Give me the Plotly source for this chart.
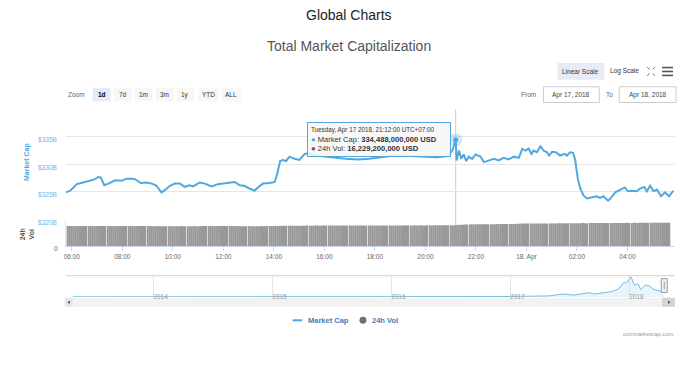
import pandas as pd
import plotly.graph_objects as go

# The page body adds an 8px margin, so the figure is drawn 8px in and sized to fit.
PAGE_W, PAGE_H, OFF = 696, 389, 8
W, H = PAGE_W - OFF, PAGE_H - OFF


def fx(px):
    return (px - OFF) / W


def fy(py):
    return 1 - (py - OFF) / H


# ---------------- data ----------------
# Total market capitalization, 17-18 Apr 2018 (UTC+07:00), billions USD
cap_time = [
    "2018-04-17 05:46", "2018-04-17 05:56", "2018-04-17 06:12", "2018-04-17 06:24", "2018-04-17 06:36",
    "2018-04-17 06:47", "2018-04-17 06:55", "2018-04-17 07:03", "2018-04-17 07:09", "2018-04-17 07:17",
    "2018-04-17 07:27", "2018-04-17 07:43", "2018-04-17 07:58", "2018-04-17 08:10", "2018-04-17 08:22",
    "2018-04-17 08:30", "2018-04-17 08:44", "2018-04-17 08:58", "2018-04-17 09:10", "2018-04-17 09:20",
    "2018-04-17 09:33", "2018-04-17 09:41", "2018-04-17 09:53", "2018-04-17 10:05", "2018-04-17 10:17",
    "2018-04-17 10:28", "2018-04-17 10:40", "2018-04-17 10:48", "2018-04-17 11:04", "2018-04-17 11:16",
    "2018-04-17 11:32", "2018-04-17 11:47", "2018-04-17 11:59", "2018-04-17 12:15", "2018-04-17 12:27",
    "2018-04-17 12:39", "2018-04-17 12:50", "2018-04-17 13:02", "2018-04-17 13:14", "2018-04-17 13:22",
    "2018-04-17 13:34", "2018-04-17 13:50", "2018-04-17 14:02", "2018-04-17 14:07", "2018-04-17 14:15",
    "2018-04-17 14:21", "2018-04-17 14:29", "2018-04-17 14:37", "2018-04-17 14:49", "2018-04-17 15:01",
    "2018-04-17 15:13", "2018-04-17 15:21", "2018-04-17 15:40", "2018-04-17 16:16", "2018-04-17 16:51",
    "2018-04-17 17:20", "2018-04-17 17:46", "2018-04-17 18:14", "2018-04-17 18:50", "2018-04-17 19:25",
    "2018-04-17 20:01", "2018-04-17 20:29", "2018-04-17 20:53", "2018-04-17 21:04", "2018-04-17 21:12",
    "2018-04-17 21:14", "2018-04-17 21:20", "2018-04-17 21:25", "2018-04-17 21:31", "2018-04-17 21:37",
    "2018-04-17 21:43", "2018-04-17 21:51", "2018-04-17 21:59", "2018-04-17 22:11", "2018-04-17 22:19",
    "2018-04-17 22:31", "2018-04-17 22:43", "2018-04-17 22:54", "2018-04-17 23:06", "2018-04-17 23:18",
    "2018-04-17 23:30", "2018-04-17 23:42", "2018-04-17 23:50", "2018-04-17 23:58", "2018-04-18 00:05",
    "2018-04-18 00:12", "2018-04-18 00:17", "2018-04-18 00:25", "2018-04-18 00:33", "2018-04-18 00:41",
    "2018-04-18 00:49", "2018-04-18 00:54", "2018-04-18 01:01", "2018-04-18 01:10", "2018-04-18 01:20",
    "2018-04-18 01:31", "2018-04-18 01:36", "2018-04-18 01:44", "2018-04-18 01:51", "2018-04-18 01:56",
    "2018-04-18 02:02", "2018-04-18 02:08", "2018-04-18 02:16", "2018-04-18 02:24", "2018-04-18 02:36",
    "2018-04-18 02:47", "2018-04-18 02:55", "2018-04-18 03:03", "2018-04-18 03:14", "2018-04-18 03:21",
    "2018-04-18 03:31", "2018-04-18 03:43", "2018-04-18 03:54", "2018-04-18 04:01", "2018-04-18 04:10",
    "2018-04-18 04:22", "2018-04-18 04:30", "2018-04-18 04:40", "2018-04-18 04:46", "2018-04-18 04:54",
    "2018-04-18 05:02", "2018-04-18 05:10", "2018-04-18 05:20", "2018-04-18 05:29", "2018-04-18 05:39",
    "2018-04-18 05:49",
]
cap_value = [
    324.9, 325.2, 326.4, 326.6, 326.8,
    327.1, 327.3, 327.7, 327.6, 326.2,
    326.5, 327.1, 327.0, 327.4, 327.4,
    327.3, 326.6, 326.7, 326.5, 326.2,
    324.9, 325.3, 326.1, 326.5, 326.5,
    325.9, 326.2, 326.0, 326.7, 326.5,
    326.0, 326.4, 326.5, 326.7, 326.8,
    326.2, 326.1, 325.6, 325.2, 325.8,
    326.5, 326.6, 326.8, 328.0, 330.6,
    330.8, 330.6, 331.4, 331.0, 330.8,
    331.9, 332.0, 331.6, 331.3, 331.0,
    330.9, 331.0, 331.3, 331.6, 331.5,
    331.4, 331.3, 331.5, 332.5, 334.488,
    330.7, 332.5, 331.0, 331.8, 330.6,
    331.4, 331.0, 331.8, 331.4, 330.4,
    330.7, 331.0, 330.7, 331.2, 330.9,
    331.4, 331.2, 332.8, 332.5, 332.9,
    331.9, 332.5, 332.2, 333.3, 332.5,
    332.2, 331.6, 332.3, 332.2, 331.6,
    331.9, 331.6, 332.2, 332.1, 330.7,
    327.4, 325.6, 324.3, 323.8, 324.0,
    324.2, 323.9, 324.2, 323.4, 323.9,
    324.9, 325.4, 325.8, 325.1, 325.2,
    325.1, 325.6, 325.9, 325.1, 326.1,
    325.1, 325.4, 324.2, 324.9, 324.2,
    325.2,
]

# 24h volume, one bar every 5 minutes from 05:45 (billions USD), one row per hour
vol_start = "2018-04-17 05:45"
vol_step = "5min"
vol_value = [
    15.6, 15.6, 15.7, 15.6, 15.6, 15.6, 15.7, 15.7, 15.6, 15.6, 15.7, 15.6,
    15.6, 15.7, 15.6, 15.6, 15.7, 15.6, 15.6, 15.6, 15.7, 15.6, 15.6, 15.7,
    15.7, 15.6, 15.6, 15.7, 15.6, 15.6, 15.7, 15.6, 15.6, 15.6, 15.7, 15.6,
    15.6, 15.6, 15.7, 15.6, 15.6, 15.6, 15.5, 15.5, 15.6, 15.5, 15.5, 15.5,
    15.5, 15.5, 15.6, 15.5, 15.5, 15.5, 15.5, 15.6, 15.5, 15.5, 15.5, 15.5,
    15.5, 15.6, 15.5, 15.5, 15.5, 15.6, 15.6, 15.6, 15.7, 15.6, 15.6, 15.6,
    15.6, 15.6, 15.7, 15.6, 15.6, 15.6, 15.6, 15.7, 15.6, 15.6, 15.6, 15.5,
    15.5, 15.5, 15.5, 15.6, 15.5, 15.5, 15.5, 15.5, 15.5, 15.6, 15.5, 15.5,
    15.6, 15.6, 15.6, 15.7, 15.7, 15.7, 15.8, 15.7, 15.8, 15.8, 15.8, 15.8,
    15.8, 15.9, 15.8, 15.9, 15.9, 15.9, 15.9, 16.0, 15.9, 15.9, 16.0, 16.0,
    16.0, 15.9, 16.0, 16.0, 16.0, 16.0, 16.0, 16.1, 16.0, 16.0, 16.0, 16.1,
    16.0, 16.0, 16.1, 16.0, 16.0, 16.0, 16.0, 16.0, 16.1, 16.0, 16.0, 16.0,
    16.0, 16.0, 16.0, 16.1, 16.0, 16.0, 16.0, 16.1, 16.0, 16.0, 16.1, 16.0,
    16.1, 16.0, 16.1, 16.1, 16.1, 16.1, 16.2, 16.1, 16.1, 16.1, 16.2, 16.1,
    16.1, 16.2, 16.1, 16.1, 16.2, 16.2, 16.1, 16.2, 16.2, 16.2, 16.2, 16.2,
    16.2, 16.2, 16.2, 16.2, 16.2, 16.2, 16.4, 16.6, 16.7, 16.7, 16.8, 16.8,
    16.8, 16.9, 16.8, 16.9, 16.9, 16.9, 17.0, 16.9, 17.0, 17.0, 17.0, 17.0,
    17.0, 17.1, 17.0, 17.1, 17.1, 17.1, 17.1, 17.2, 17.1, 17.2, 17.3, 17.4,
    17.4, 17.5, 17.5, 17.5, 17.5, 17.5, 17.6, 17.5, 17.5, 17.6, 17.6, 17.6,
    17.6, 17.6, 17.6, 17.7, 17.6, 17.6, 17.7, 17.7, 17.7, 17.7, 17.6, 17.7,
    17.7, 17.7, 17.8, 17.8, 17.8, 17.8, 17.9, 17.8, 17.8, 17.9, 17.9, 17.9,
    17.9, 17.9, 18.0, 17.9, 17.9, 18.0, 18.0, 18.0, 17.9, 18.0, 18.0, 18.0,
    18.0, 18.0, 18.0, 18.1, 18.0, 18.0, 18.1, 18.1, 18.0, 18.1, 18.1, 18.1,
    18.1, 18.1, 18.1, 18.2, 18.1, 18.1, 18.1, 18.2, 18.2, 18.1, 18.2, 18.2,
]
vol_time = pd.date_range(vol_start, periods=len(vol_value), freq=vol_step)

# Navigator: full market-cap history (billions USD)
nav_date = [
    "2013-04-28", "2013-06-01", "2013-08-01", "2013-10-01", "2013-11-15", "2013-12-04",
    "2013-12-20", "2014-01-15", "2014-03-01", "2014-05-01", "2014-07-01", "2014-09-01",
    "2014-11-01", "2015-01-15", "2015-03-01", "2015-06-01", "2015-09-01", "2015-11-05",
    "2016-01-01", "2016-03-01", "2016-06-15", "2016-09-01", "2016-12-01", "2017-01-05",
    "2017-03-01", "2017-04-01", "2017-05-01", "2017-05-25", "2017-06-12", "2017-07-15",
    "2017-08-10", "2017-09-01", "2017-09-15", "2017-10-20", "2017-11-08", "2017-11-29",
    "2017-12-17", "2017-12-22", "2018-01-07", "2018-01-17", "2018-01-28", "2018-02-06",
    "2018-02-20", "2018-03-05", "2018-03-18", "2018-03-28", "2018-04-06", "2018-04-18",
]
nav_value = [
    1.6, 1.3, 1.2, 1.6, 5, 15,
    8, 11, 7.5, 6, 8.5, 6.5,
    4.5, 3, 3.8, 3.5, 3.5, 6,
    7, 7, 12, 10, 12, 18,
    22, 25, 40, 90, 115, 75,
    130, 175, 115, 170, 220, 330,
    610, 560, 830, 480, 550, 300,
    500, 440, 305, 270, 240, 325,
]
nav_years = ["2014-01-01", "2015-01-01", "2016-01-01", "2017-01-01", "2018-01-01"]
nav_year_text = ["2014", "2015", "2016", "2017", "2018"]

x_tickvals = [
    "2018-04-17 06:00", "2018-04-17 08:00", "2018-04-17 10:00", "2018-04-17 12:00",
    "2018-04-17 14:00", "2018-04-17 16:00", "2018-04-17 18:00", "2018-04-17 20:00",
    "2018-04-17 22:00", "2018-04-18 00:00", "2018-04-18 02:00", "2018-04-18 04:00",
]
x_ticktext = ["06:00", "08:00", "10:00", "12:00", "14:00", "16:00", "18:00", "20:00",
              "22:00", "18. Apr", "02:00", "04:00"]
cap_tickvals = [320, 325, 330, 335, 340]
cap_ticktext = ["$320B", "$325B", "$330B", "$335B", ""]

hover_time = "2018-04-17 21:12"
hover_label = "Tuesday, Apr 17 2018, 21:12:00 UTC+07:00"
hover_vol = 16.2292

main_range = ["2018-04-17 05:45:47", "2018-04-18 05:53:06"]
nav_range = ["2013-04-07", "2018-05-22"]
nav_selected = "2018-04-17 05:46"

# ---------------- style ----------------
LINE = "#52a8de"
FONT = "Liberation Sans, Arial, sans-serif"
XDOM = [fx(64), fx(675)]

hover_cap = cap_value[cap_time.index(hover_time)]

fig = go.Figure()

fig.add_trace(go.Bar(
    x=vol_time, y=vol_value, xaxis="x", yaxis="y",
    marker=dict(color="#999999", line=dict(width=0)), name="24h Vol",
    hoverinfo="skip",
))
fig.add_trace(go.Scatter(
    x=cap_time, y=cap_value, xaxis="x2", yaxis="y2", mode="lines",
    line=dict(color=LINE, width=2), name="Market Cap", hoverinfo="skip",
))
fig.add_trace(go.Scatter(
    x=[hover_time], y=[hover_cap], xaxis="x2", yaxis="y2", mode="markers",
    marker=dict(size=13, color="rgba(82,168,222,0.28)"), hoverinfo="skip",
))
fig.add_trace(go.Scatter(
    x=[hover_time], y=[hover_cap], xaxis="x2", yaxis="y2", mode="markers",
    marker=dict(size=5, color=LINE), hoverinfo="skip",
))
fig.add_trace(go.Scatter(
    x=nav_date, y=nav_value, xaxis="x3", yaxis="y3", mode="lines",
    line=dict(color="#74bbe6", width=1), fill="tozeroy",
    fillcolor="rgba(82,168,222,0.13)", hoverinfo="skip",
))

shapes = []
annotations = []


def text(x, y, s, size=6.5, color="#333", xanchor="center", bold=False, **kw):
    if bold:
        s = "<b>" + s + "</b>"
    annotations.append(dict(
        x=fx(x), y=fy(y), xref="paper", yref="paper", text=s, showarrow=False,
        xanchor=xanchor, yanchor="middle", font=dict(size=size, color=color, family=FONT), **kw))


def rect(x0, y0, x1, y1, fill, line="rgba(0,0,0,0)", lw=0):
    shapes.append(dict(type="rect", xref="paper", yref="paper", x0=fx(x0), x1=fx(x1),
                       y0=fy(y1), y1=fy(y0), fillcolor=fill, line=dict(color=line, width=lw),
                       layer="below"))


def line(x0, y0, x1, y1, color, w=1, layer="above"):
    shapes.append(dict(type="line", xref="paper", yref="paper", x0=fx(x0), x1=fx(x1),
                       y0=fy(y0), y1=fy(y1), line=dict(color=color, width=w), layer=layer))


# titles
text(348, 15, "Global Charts", size=14, color="#222")
text(348, 47, "Total Market Capitalization", size=14, color="#555")

# scale buttons
rect(557, 64, 604, 81, "#e6ebf5")
text(580.5, 72.5, "Linear Scale", size=6.5, color="#333")
text(624.5, 72.5, "Log Scale", size=6.5, color="#333")
# expand icon
for (ax, ay, bx, by) in [(647, 68, 649.5, 70.5), (655, 68, 652.5, 70.5),
                         (647, 77, 649.5, 74.5), (655, 77, 652.5, 74.5)]:
    line(ax, ay, bx, by, "#777", 1)
# hamburger icon
for yy in (68.5, 72.5, 76.5):
    line(662, yy, 673, yy, "#555", 1.6)

# zoom buttons
text(74.5, 96, "Zoom", size=6.5, color="#666")
btns = [("1d", 100, 18), ("7d", 121, 18), ("1m", 142, 18), ("3m", 163, 18),
        ("1y", 184, 18), ("YTD", 207, 20), ("ALL", 230, 20)]
for i, (lab, cx, w) in enumerate(btns):
    rect(cx - w / 2, 89, cx + w / 2, 103, "#e6ebf5" if i == 0 else "#f7f7f7")
    text(cx, 96, lab, size=6.5, color="#000" if i == 0 else "#333", bold=(i == 0))

# date inputs
text(538, 96, "From", size=6.5, color="#666", xanchor="right")
rect(543, 88, 599, 104, "#ffffff", "#cccccc", 1)
text(571, 96, "Apr 17, 2018", size=6.5, color="#444")
text(615, 96, "To", size=6.5, color="#666", xanchor="right")
rect(619, 88, 676, 104, "#ffffff", "#cccccc", 1)
text(647.5, 96, "Apr 18, 2018", size=6.5, color="#444")

# axis titles
text(24.5, 164, "<b>Market Cap</b>", size=7, color=LINE, textangle=-90)
text(25, 238, "<b>24h<br>Vol</b>", size=7, color="#555", textangle=-90)

# crosshair
shapes.append(dict(type="line", xref="x2", yref="paper", x0=hover_time, x1=hover_time,
                   y0=fy(250), y1=fy(111), line=dict(color="#cccccc", width=1), layer="below"))

# tooltip
tip = (
    f'<span style="font-size:6.3px">{hover_label}</span><br>'
    f'<span style="color:{LINE}">●</span> Market Cap: <b>{hover_cap * 1e9:,.0f} USD</b><br>'
    f'<span style="color:#555">●</span> 24h Vol: <b>{hover_vol * 1e9:,.0f} USD</b>'
)
annotations.append(dict(
    x=fx(306), y=fy(124), xref="paper", yref="paper", xanchor="left", yanchor="top",
    text=tip, showarrow=False, align="left", width=136, height=27, borderpad=3,
    bgcolor="rgba(247,247,247,0.85)", bordercolor=LINE, borderwidth=1,
    font=dict(size=7.6, color="#333", family=FONT)))

# navigator decorations
line(64, 280, 675, 280, "#d0d0d0", 1)
shapes.append(dict(type="rect", xref="x3", yref="paper", xsizemode="pixel", xanchor=nav_selected,
                   x0=-2.5, x1=3.5, y0=fy(297), y1=fy(283), fillcolor="#f2f2f2",
                   line=dict(color="#999999", width=1)))
shapes.append(dict(type="line", xref="x3", yref="paper", xsizemode="pixel", xanchor=nav_selected,
                   x0=0.5, x1=0.5, y0=fy(294), y1=fy(286), line=dict(color="#999999", width=1)))

# scrollbar
rect(63, 302.5, 675, 311.5, "#f2f2f2")
rect(63, 302.5, 71, 311.5, "#e6e6e6")
rect(662, 302.5, 675, 311.5, "#d5d5d5")
shapes.append(dict(type="path", xref="paper", yref="paper",
                   path=f"M {fx(65.5)} {fy(307)} L {fx(68)} {fy(305.3)} L {fx(68)} {fy(308.7)} Z",
                   fillcolor="#555", line=dict(width=0)))
shapes.append(dict(type="path", xref="paper", yref="paper",
                   path=f"M {fx(670.5)} {fy(307)} L {fx(668)} {fy(305.3)} L {fx(668)} {fy(308.7)} Z",
                   fillcolor="#555", line=dict(width=0)))

# legend
line(291.5, 325.3, 301, 325.3, LINE, 2)
text(304.5, 325.3, "Market Cap", size=7.5, color="#3b7dbd", xanchor="left", bold=True)
shapes.append(dict(type="circle", xref="paper", yref="paper", x0=fx(358.5), x1=fx(365.5),
                   y0=fy(328.8), y1=fy(321.8), fillcolor="#707070", line=dict(width=0)))
text(369.5, 325.3, "24h Vol", size=7.5, color="#3b7dbd", xanchor="left", bold=True)

# credit
text(675, 339, "coinmarketcap.com", size=5.8, color="#999", xanchor="right")

fig.update_layout(
    width=W, height=H, autosize=False,
    margin=dict(l=0, r=0, t=0, b=0),
    paper_bgcolor="white", plot_bgcolor="white",
    showlegend=False, bargap=0.3,
    font=dict(family=FONT, size=7, color="#666"),
    shapes=shapes, annotations=annotations,
    xaxis=dict(
        domain=XDOM, anchor="y", type="date", range=main_range,
        tickvals=x_tickvals, ticktext=x_ticktext, tickfont=dict(size=6.5, color="#666"),
        showgrid=False, zeroline=False, showline=True, linecolor="#ccd6eb", linewidth=1,
        ticks="outside", ticklen=4, tickcolor="#ccd6eb",
    ),
    yaxis=dict(
        domain=[fy(250), fy(223.5)], anchor="x", range=[0, 20.2],
        tickvals=[0], ticktext=["0"], tickfont=dict(size=6.5, color="#666"),
        showgrid=False, zeroline=False, showline=True, linecolor="#e6e6e6",
        ticklabelstandoff=6, ticklabelshift=3,
    ),
    xaxis2=dict(
        domain=XDOM, anchor="y2", type="date", range=main_range, matches="x",
        showticklabels=False, showgrid=False, zeroline=False, showline=False,
    ),
    yaxis2=dict(
        domain=[fy(222.7), fy(111)], anchor="x2", range=[320, 340],
        tickvals=cap_tickvals, ticktext=cap_ticktext,
        tickfont=dict(size=6.5, color="#6fb5e3"), gridcolor="#e6e6e6", gridwidth=1,
        zeroline=False, showline=False, ticklabelstandoff=8, ticklabelshift=3,
    ),
    xaxis3=dict(
        domain=XDOM, anchor="y3", type="date", range=nav_range,
        tickvals=nav_years, ticktext=nav_year_text, ticklabelposition="inside right",
        tickfont=dict(size=6.5, color="#999"), showgrid=True, gridcolor="#e6e6e6",
        zeroline=False, showline=False, ticks="", ticklabelstandoff=-9,
    ),
    yaxis3=dict(
        domain=[fy(301.5), fy(280)], anchor="x3", range=[0, 880], visible=False,
    ),
)

fig.write_html("out.html")
